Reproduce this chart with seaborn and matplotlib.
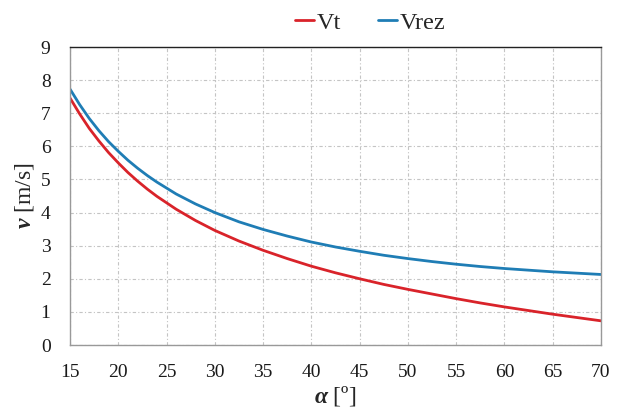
import matplotlib
matplotlib.use("Agg")
import matplotlib.pyplot as plt
import seaborn as sns
import pandas as pd

alpha = [15, 16, 17, 18, 19, 20, 21, 22, 23, 24, 26, 28, 30, 32.5, 35, 37.5, 40, 42.5,
         45, 47.5, 50, 52.5, 55, 57.5, 60, 62.5, 65, 67.5, 70]
vt = [7.46, 6.98, 6.54, 6.16, 5.81, 5.50, 5.21, 4.95, 4.71, 4.49, 4.10, 3.76, 3.46, 3.14,
      2.86, 2.61, 2.38, 2.18, 2.00, 1.83, 1.68, 1.54, 1.40, 1.27, 1.15, 1.04,
      0.93, 0.83, 0.73]
vrez = [7.73, 7.26, 6.84, 6.47, 6.14, 5.85, 5.58, 5.34, 5.12, 4.92, 4.56, 4.26, 4.00, 3.72,
        3.49, 3.29, 3.11, 2.96, 2.83, 2.71, 2.61, 2.52, 2.44, 2.37, 2.31, 2.26,
        2.21, 2.17, 2.13]
series_names = ["Vt", "Vrez"]
colors = {"Vt": "#D9232A", "Vrez": "#1F7DB5"}
xticks = list(range(15, 71, 5))
yticks = list(range(0, 10))

df = pd.DataFrame({
    "alpha": alpha * 2,
    "v": vt + vrez,
    "series": ["Vt"] * len(alpha) + ["Vrez"] * len(alpha),
})

sns.set_theme(style="white")
plt.rcParams["font.family"] = ["Liberation Serif", "DejaVu Serif"]
plt.rcParams["mathtext.fontset"] = "custom"
plt.rcParams["mathtext.rm"] = "Liberation Serif"
plt.rcParams["mathtext.it"] = "Liberation Serif:italic"
plt.rcParams["mathtext.bf"] = "Liberation Serif:bold"
plt.rcParams["mathtext.bfit"] = "Liberation Serif:italic:bold"

fig = plt.figure(figsize=(6.25, 4.13), dpi=100)
ax = fig.add_axes([70 / 625, 1 - 345 / 413, 531 / 625, 298 / 413])

sns.lineplot(data=df, x="alpha", y="v", hue="series", hue_order=series_names,
             palette=colors, linewidth=2.0, ax=ax, legend=True)

ax.set_xlim(15, 70)
ax.set_ylim(0, 9)
ax.set_xticks(xticks)
ax.set_yticks(yticks)
ax.tick_params(axis="both", labelsize=14, labelcolor="#1a1a1a")
ax.tick_params(axis="x", direction="out", length=5, width=0.8, color="#999999", pad=9)
ax.tick_params(axis="y", direction="out", length=7, width=0.8, color="#999999", pad=7)
ax.grid(True, color="#C4C4C4", linestyle=(0, (3, 2, 1, 2)), linewidth=0.8)
for side in ["left", "bottom", "right"]:
    ax.spines[side].set_color("#999999")
    ax.spines[side].set_linewidth(1.0)
ax.spines["top"].set_color("#222222")
ax.spines["top"].set_linewidth(1.0)

ax.set_xlabel(r"$\mathbfit{\alpha}$ [º]", fontsize=17, labelpad=2)
ax.set_ylabel(r"$\mathbfit{v}$ [m/s]", fontsize=17)
ax.yaxis.set_label_coords(-0.064, 0.5)

handles, labels = ax.get_legend_handles_labels()
ax.get_legend().remove()
fig.legend(handles, labels, loc="upper center", bbox_to_anchor=(370 / 625, 1.025),
           ncol=2, frameon=False, fontsize=17.5, handlelength=0.8,
           handletextpad=0.1, columnspacing=1.5)

fig.savefig("out.png", dpi=100)
